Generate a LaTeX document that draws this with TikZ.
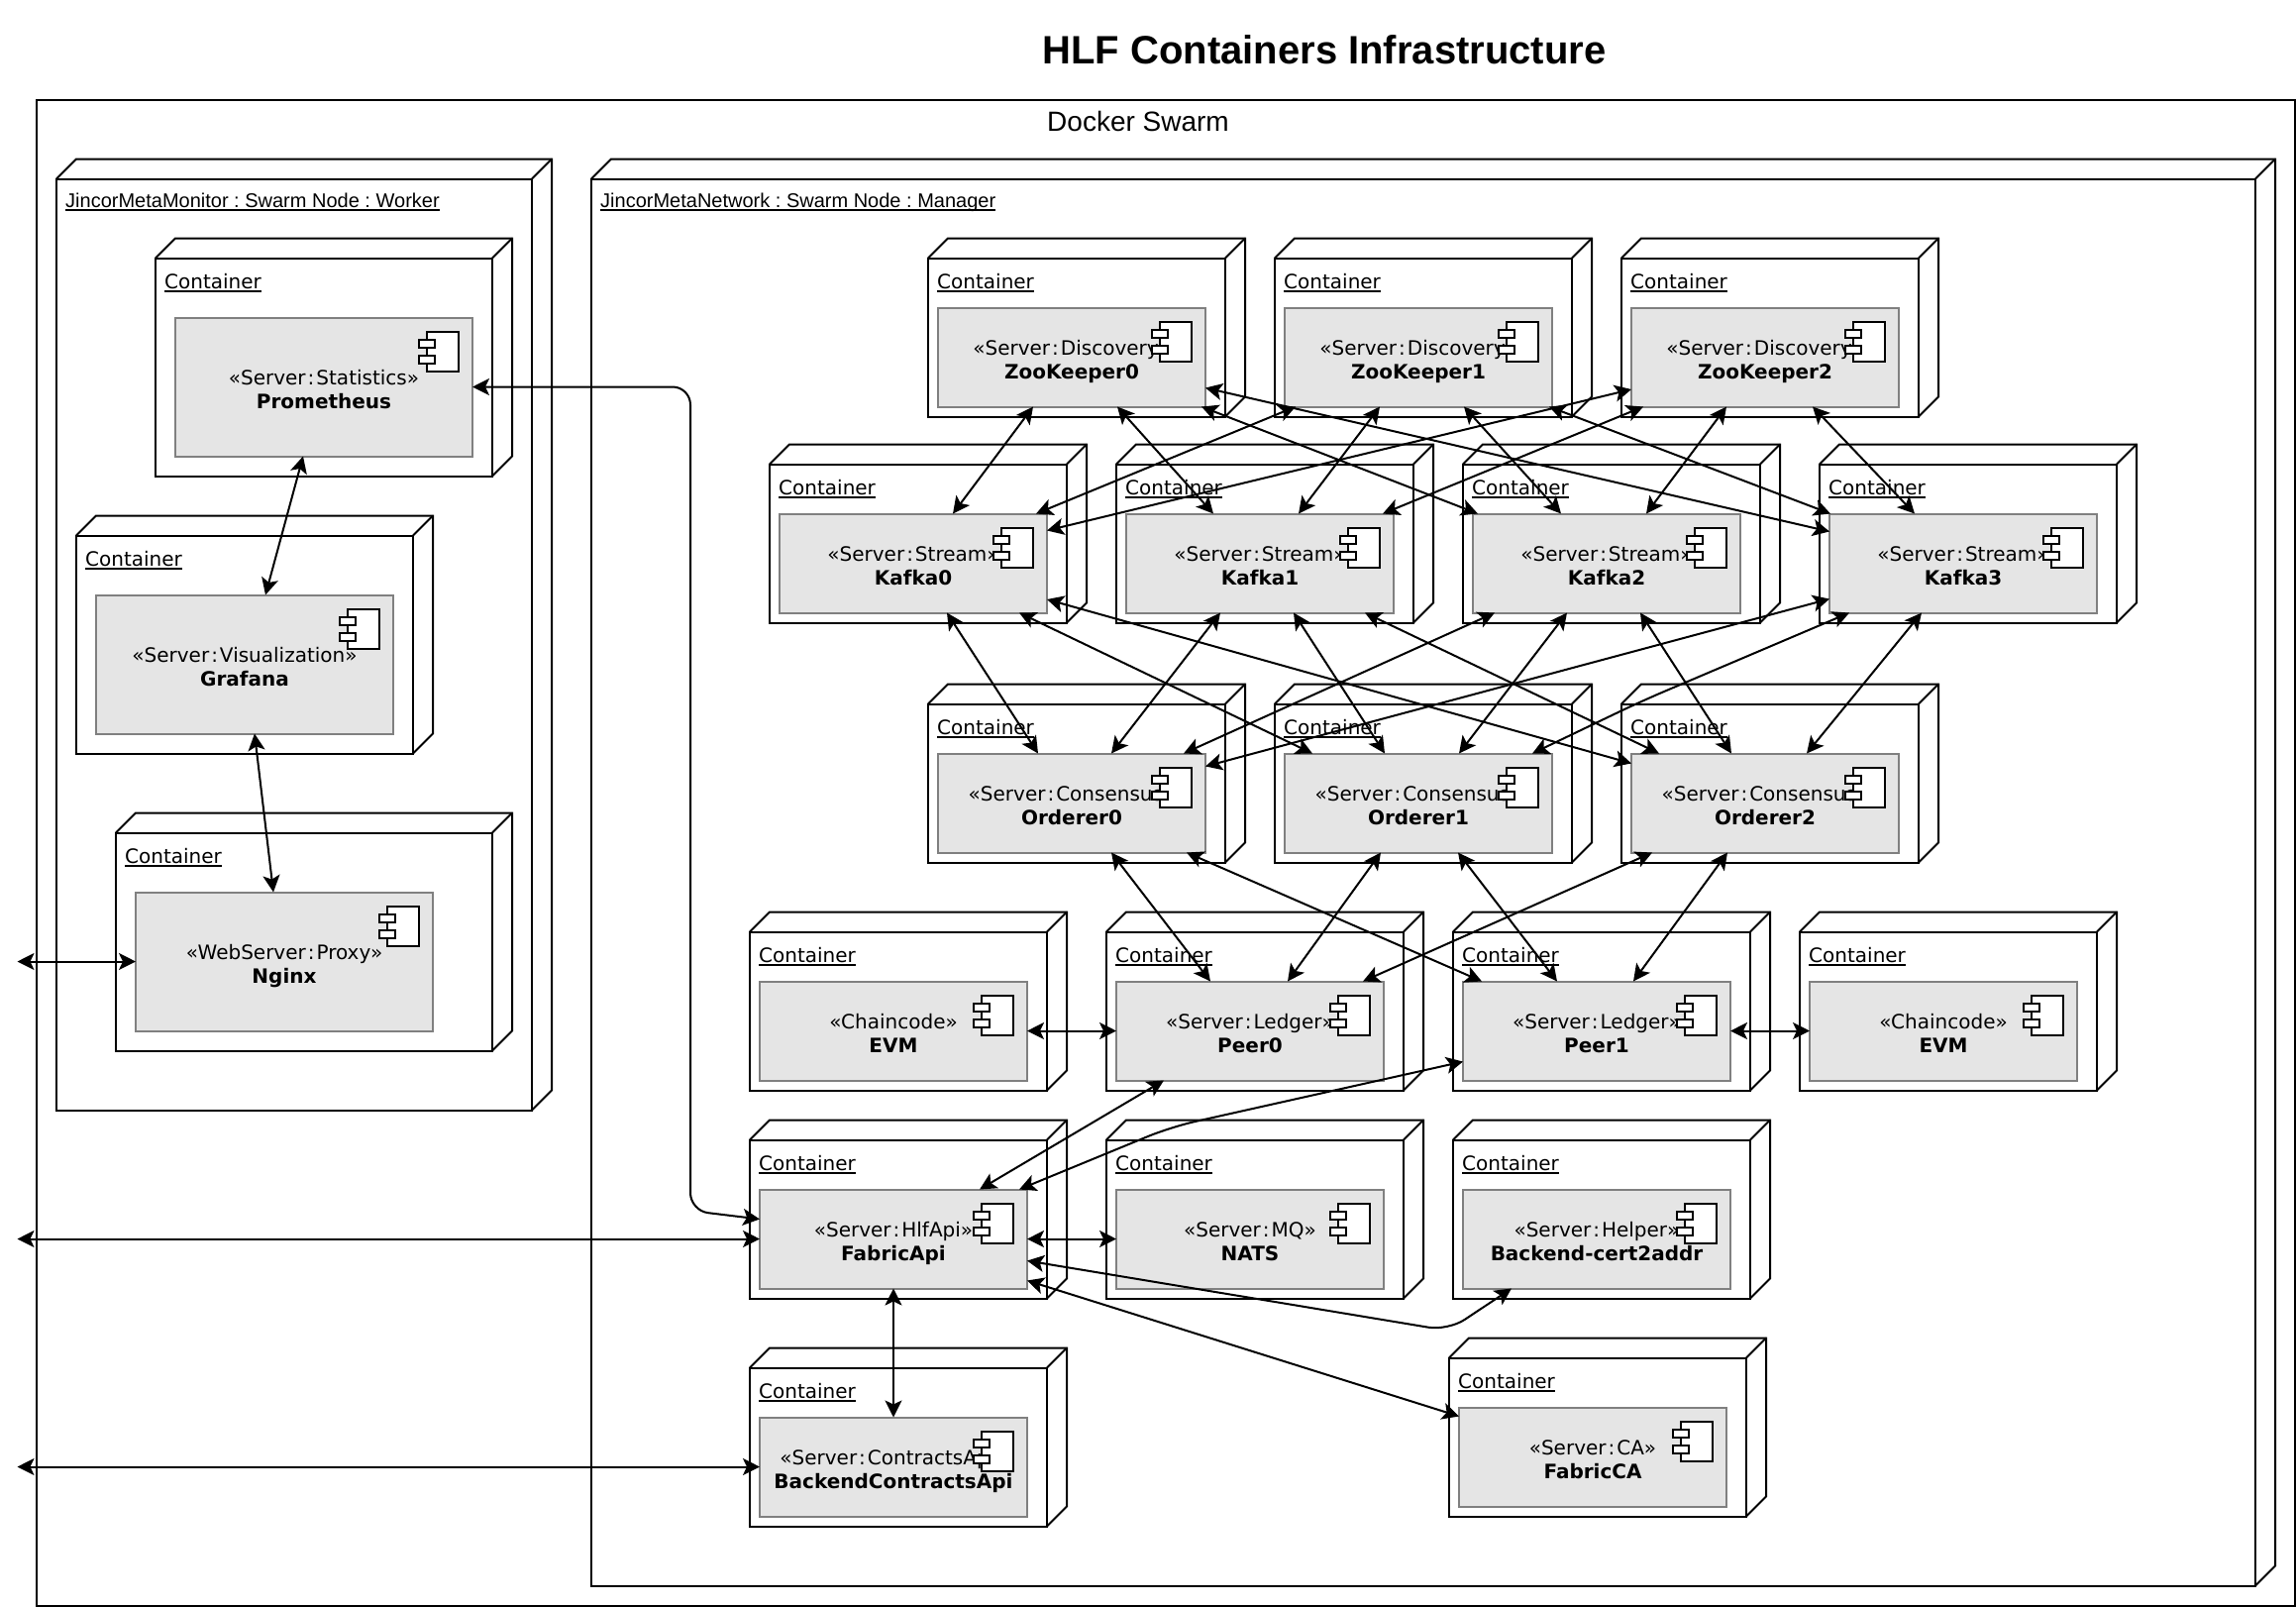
\documentclass[tikz,border=0pt]{standalone}
\usepackage{fontspec}
\setmainfont{DejaVu Sans}
\newfontfamily\swarmfont{Liberation Sans}
\usetikzlibrary{arrows.meta}
\frenchspacing

\newcommand{\ultext}[1]{\setbox0=\hbox{#1}\rlap{\rule[-3.4pt]{\wd0}{1.8pt}}\box0}
\newcommand{\cl}{\kern2pt:\kern2pt}
\newcommand{\crate}[5]{
  \draw[crateside] (#2,#3) -- ++(20,-20) -- ++(#4,0) -- ++(0,#5) -- ++(-20,20);
  \node[crate,minimum width=#4pt,minimum height=#5pt] (#1) at (#2,#3) {};
  \draw[crateside] (#1.north east) -- ++(20,-20);
}
\newcommand{\compicon}[1]{
  \draw[icon] ([xshift=-46pt,yshift=-14pt]#1.north east) rectangle ++(32,40);
  \draw[icon] ([xshift=-54pt,yshift=-22pt]#1.north east) rectangle ++(16,8);
  \draw[icon] ([xshift=-54pt,yshift=-38.5pt]#1.north east) rectangle ++(16,8);
}

\begin{document}
\begin{tikzpicture}[x=1pt,y=-1pt,>={Stealth[length=17pt,width=17pt,inset=4pt]},
    crate/.style={draw,fill=white,line width=2pt,inner sep=0pt,outer sep=0pt,anchor=north west},
    crateside/.style={draw,fill=white,line width=2pt,line join=miter},
    cratetext/.style={inner sep=0pt,anchor=base west,font=\fontsize{20pt}{24pt}\selectfont},
    swarmtext/.style={inner sep=0pt,anchor=base west,font=\swarmfont\fontsize{20pt}{24pt}\selectfont},
    comp/.style={draw=black!50,fill=black!10,line width=2pt,inner sep=0pt,outer sep=0pt,anchor=north west,
      align=center,font=\fontsize{20pt}{24pt}\selectfont},
    icon/.style={draw=black,fill=white,line width=2pt},
    link/.style={line width=2pt,<->}]
  \useasboundingbox (0,0) rectangle (2318,1622);
  \fill[white] (0,0) rectangle (2318,1622);

  \node[font=\swarmfont\bfseries\fontsize{40pt}{48pt}\selectfont] (title) at (1337,50) {HLF Containers Infrastructure};
  \draw[line width=2pt] (37,100.5) rectangle (2317,1620.5);
  \node[font=\swarmfont\fontsize{28pt}{34pt}\selectfont] (swarm) at (1149,122) {Docker Swarm};

  \crate{monitor}{57}{180.5}{480}{940}
  \node[swarmtext] (monitortext) at (66,209.5) {\ultext{JincorMetaMonitor : Swarm Node : Worker}};
  \crate{network}{597}{180.5}{1680}{1420}
  \node[swarmtext] (networktext) at (606,209.5) {\ultext{JincorMetaNetwork : Swarm Node : Manager}};

  \foreach \c/\n/\x/\y/\w/\s/\t in {c1/prom/157/260.5/340/Server\cl Statistics/Prometheus,
      c2/graf/77/540.5/340/Server\cl Visualization/Grafana,
      c3/ngx/117/840.5/380/WebServer\cl Proxy/Nginx} {
    \crate{\c}{\x}{\y}{\w}{220}
    \node[cratetext] (\c text) at (\x+9,\y+31) {\ultext{Container}};
    \node[comp,minimum width=300pt,minimum height=140pt] (\n) at (\x+20,\y+60)
      {\rule{0pt}{24pt}«\s»\\\rule[-5pt]{0pt}{5pt}\textbf{\t}};
    \compicon{\n}
  }

  \foreach \c/\n/\x/\y/\s/\t in {c4/zk0/937/260.5/Server\cl Discovery/ZooKeeper0,
      c5/zk1/1287/260.5/Server\cl Discovery/ZooKeeper1,
      c6/zk2/1637/260.5/Server\cl Discovery/ZooKeeper2,
      c7/k0/777/468.5/Server\cl Stream/Kafka0,
      c8/k1/1127/468.5/Server\cl Stream/Kafka1,
      c9/k2/1477/468.5/Server\cl Stream/Kafka2,
      c10/k3/1837/468.5/Server\cl Stream/Kafka3,
      c11/o0/937/710.5/Server\cl Consensus/Orderer0,
      c12/o1/1287/710.5/Server\cl Consensus/Orderer1,
      c13/o2/1637/710.5/Server\cl Consensus/Orderer2,
      c14/evmA/757/940.5/Chaincode/EVM,
      c15/p0/1117/940.5/Server\cl Ledger/Peer0,
      c16/p1/1467/940.5/Server\cl Ledger/Peer1,
      c17/evmB/1817/940.5/Chaincode/EVM,
      c18/api/757/1150.5/Server\cl HlfApi/FabricApi,
      c19/nats/1117/1150.5/Server\cl MQ/NATS,
      c20/cert/1467/1150.5/Server\cl Helper/Backend-cert2addr,
      c21/contracts/757/1380.5/Server\cl ContractsApi/BackendContractsApi,
      c22/ca/1463/1370.5/Server\cl CA/FabricCA} {
    \crate{\c}{\x}{\y}{300}{160}
    \node[cratetext] (\c text) at (\x+9,\y+31) {\ultext{Container}};
    \node[comp,minimum width=270pt,minimum height=100pt] (\n) at (\x+10,\y+50)
      {\rule{0pt}{24pt}«\s»\\\rule[-5pt]{0pt}{5pt}\textbf{\t}};
    \compicon{\n}
  }

  \foreach \a/\p/\b/\q in {zk0/96/k0/175,zk0/181/k1/88,zk0/266/k2/5,
      zk1/11/k0/259,zk1/96/k1/174,zk1/181/k2/89,zk1/267/k3/1,
      zk2/12/k1/259,zk2/96/k2/175,zk2/183/k3/86,
      k0/169/o0/101,k0/242/o1/28,
      k1/95/o0/175,k1/169/o1/101,k1/241/o2/28,
      k2/22/o0/248,k2/95/o1/176,k2/169/o2/101,
      k3/93/o2/177,
      o0/175/p0/95,o0/251/p1/19,
      o1/97/p0/173,o1/175/p1/95,
      o2/21/p0/249,o2/97/p1/172,
      prom/129/graf/171,graf/160/ngx/139,
      api/135/contracts/135} {
    \draw[link] ([xshift=\p pt]\a.south west) -- ([xshift=\q pt]\b.north west);
  }

  \draw[link] ([yshift=19pt]zk0.south east) -- ([yshift=-18pt]k3.north west);
  \draw[link] ([yshift=17.5pt]zk2.south west) -- ([yshift=-17pt]k0.north east);
  \draw[link] ([yshift=13.5pt]k0.south east) -- ([yshift=-10pt]o2.north west);
  \draw[link] ([yshift=14pt]k3.south west) -- ([yshift=-13pt]o0.north east);
  \draw[link,rounded corners=25pt] ([xshift=20pt]k3.south west) -- (1656.5,708) -- ([xshift=250pt]o1.north west);
  \draw[link] (evmA.east) -- (p0.west);
  \draw[link] (p1.east) -- (evmB.west);
  \draw[link] (api.east) -- (nats.west);
  \draw[link] ([xshift=48pt]p0.south west) -- ([xshift=222pt]api.north west);
  \draw[link,rounded corners=25pt] ([yshift=19pt]p1.south west) -- (1182,1137.5) -- ([xshift=262pt]api.north west);
  \draw[link,rounded corners=20pt] ([yshift=28pt]api.south east) -- (1462,1343) -- ([xshift=49pt]cert.south west);
  \draw[link] ([yshift=8pt]api.south east) -- ([yshift=-9pt]ca.north west);
  \draw[link,rounded corners=18pt] (prom.east) -- (697,390.5) -- (697,1222) -- ([yshift=20pt]api.west);

  \coordinate (ext1) at (17.5,970.5);
  \coordinate (ext2) at (17.5,1250.5);
  \coordinate (ext3) at (17.5,1480.5);
  \draw[link] (ext1) -- (ngx.west);
  \draw[link] (ext2) -- (api.west);
  \draw[link] (ext3) -- (contracts.west);
\end{tikzpicture}
\end{document}
